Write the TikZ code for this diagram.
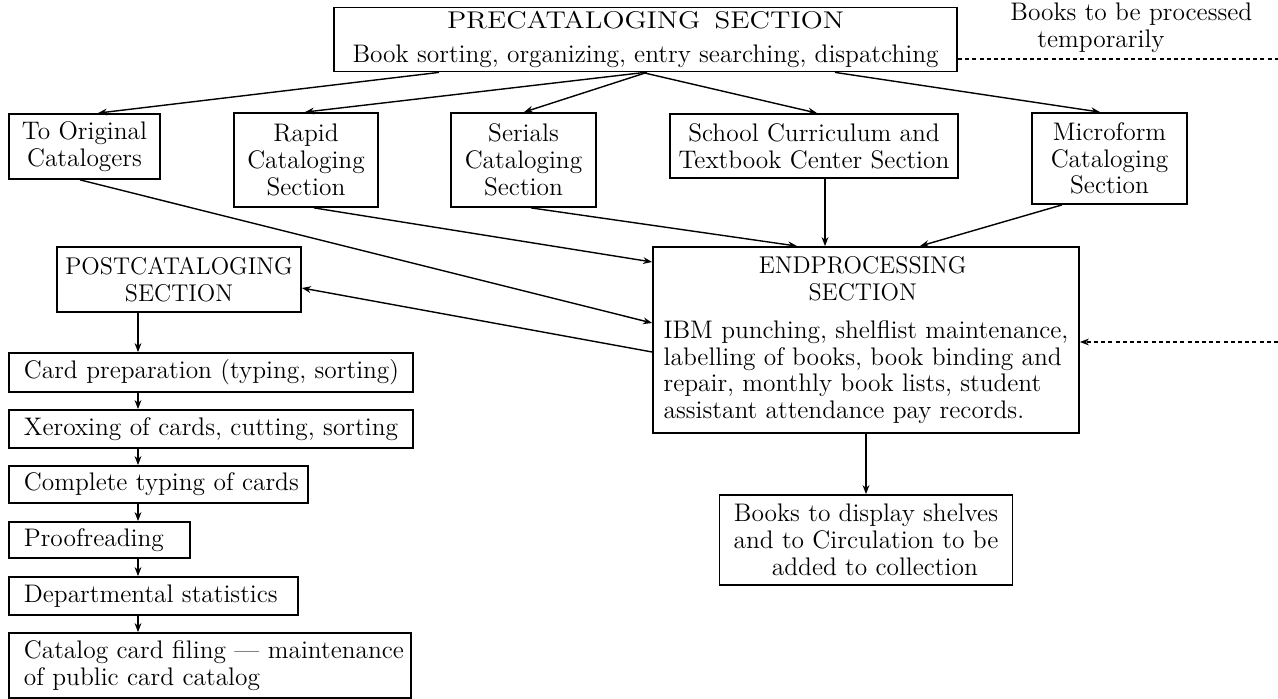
\documentclass[tikz,border=0pt]{standalone}
\usetikzlibrary{arrows.meta}
\newcommand\dgbody{\fontsize{12.7}{13.4}\selectfont}
\newcommand\dgcaps{\fontsize{12.1}{13.4}\selectfont}
\begin{document}
\begin{tikzpicture}[x=0.5pt,y=-0.5pt,
  box/.style={draw, line width=0.9pt, inner sep=0pt, align=center, font=\dgbody},
  colbox/.style={box, anchor=west, align=left, inner xsep=7.5pt},
  arr/.style={line width=0.7pt, -{Stealth[length=4.5pt,width=3.4pt]}},
  dashline/.style={line width=0.7pt, dash pattern=on 2pt off 1.6pt}
]
\fill[white] (0,0) rectangle (1278,699);
\useasboundingbox (0,0) rectangle (1278,699);

% top section and the note beside it
\node[box, minimum width=311.5pt, minimum height=32pt] (pre) at (645.5,39.5)
  {\resizebox{198.5pt}{\height}{\dgcaps PRECATALOGING\enspace SECTION}\\[3.2pt]Book sorting, organizing, entry searching, dispatching};
\node[font=\dgbody, anchor=west, align=left, inner sep=0pt] (note) at (1010,27.5)
  {Books to be processed\\\hspace*{13.5pt}temporarily};

% cataloging sections
\node[box, minimum width=75.5pt, minimum height=32.5pt] (orig) at (84.5,146.5) {To Original\\Catalogers};
\node[box, minimum width=72pt, minimum height=47pt] (rapid) at (306,160) {Rapid\\Cataloging\\Section};
\node[box, minimum width=72.5pt, minimum height=47pt] (serials) at (523.5,160) {Serials\\Cataloging\\Section};
\node[box, minimum width=144pt, minimum height=32pt] (school) at (814,146) {School Curriculum and\\Textbook Center Section};
\node[box, minimum width=77.5pt, minimum height=45.5pt] (micro) at (1109.5,158.5) {Microform\\Cataloging\\Section};

% end processing
\node[box, align=left, minimum width=213pt, minimum height=93pt] (endproc) at (866,340)
  {\makebox[199pt]{\dgcaps ENDPROCESSING}\\\makebox[199pt]{\dgcaps SECTION}\\[5.7pt]%
   IBM punching, shelflist maintenance,\\labelling of books, book binding and\\%
   repair, monthly book lists, student\\assistant attendance pay records.};
\node[box, minimum width=146.5pt, minimum height=45pt] (books) at (866,540)
  {Books to display shelves\\and to Circulation to be\\\hspace*{0.7em}added to collection};

% post cataloging column
\node[box, minimum width=122pt, minimum height=32.5pt] (post) at (179,279.5)
  {{\dgcaps POSTCATALOGING}\\{\dgcaps SECTION}};
\node[colbox, text width=187pt, minimum height=19.5pt] (card) at (8,372.5) {\mbox{Card preparation (typing, sorting)}};
\node[colbox, text width=187pt, minimum height=19pt] (xerox) at (8,429) {\mbox{Xeroxing of cards, cutting, sorting}};
\node[colbox, text width=134.5pt, minimum height=18.5pt] (typing) at (8,484.5) {\mbox{Complete typing of cards}};
\node[colbox, text width=75.5pt, minimum height=18pt] (proof) at (8,540) {\mbox{Proofreading}};
\node[colbox, text width=129.5pt, minimum height=19pt] (dept) at (8,596) {\mbox{Departmental statistics}};
\node[colbox, text width=186pt, minimum height=32.5pt] (filing) at (8,665.5)
  {\mbox{Catalog card filing — maintenance}\\of public card catalog};

% dispatching from the top section
\draw[arr] (pre.south -| 439,0) -- (orig.north -| 98,0);
\draw[arr] (pre.south -| 645,0) -- (rapid.north -| 305,0);
\draw[arr] (pre.south -| 647,0) -- (serials.north -| 524,0);
\draw[arr] (pre.south -| 642,0) -- (school.north -| 817,0);
\draw[arr] (pre.south -| 835,0) -- (micro.north -| 1100,0);

% into end processing
\draw[arr] (orig.south -| 80,0) -- (endproc.west |- 0,323);
\draw[arr] (rapid.south -| 314,0) -- (endproc.west |- 0,262);
\draw[arr] (serials.south -| 531,0) -- (endproc.north -| 797,0);
\draw[arr] (school.south -| 825,0) -- (endproc.north -| 825,0);
\draw[arr] (micro.south -| 1062,0) -- (endproc.north -| 920,0);

% out of end processing
\draw[arr] (endproc.west |- 0,352) -- (post.east |- 0,288);
\draw[arr] (endproc.south) -- (books.north);

% post cataloging chain
\coordinate (colx) at (138,0);
\draw[arr] (post.south -| colx) -- (card.north -| colx);
\draw[arr] (card.south -| colx) -- (xerox.north -| colx);
\draw[arr] (xerox.south -| colx) -- (typing.north -| colx);
\draw[arr] (typing.south -| colx) -- (proof.north -| colx);
\draw[arr] (proof.south -| colx) -- (dept.north -| colx);
\draw[arr] (dept.south -| colx) -- (filing.north -| colx);

% temporary processing route
\coordinate (edgeTop) at (1278,59);
\coordinate (edgeMid) at (1278,342);
\draw[dashline] (pre.east |- edgeTop) -- (edgeTop);
\draw[dashline, arr] (edgeMid) -- (endproc.east |- edgeMid);
\end{tikzpicture}
\end{document}
